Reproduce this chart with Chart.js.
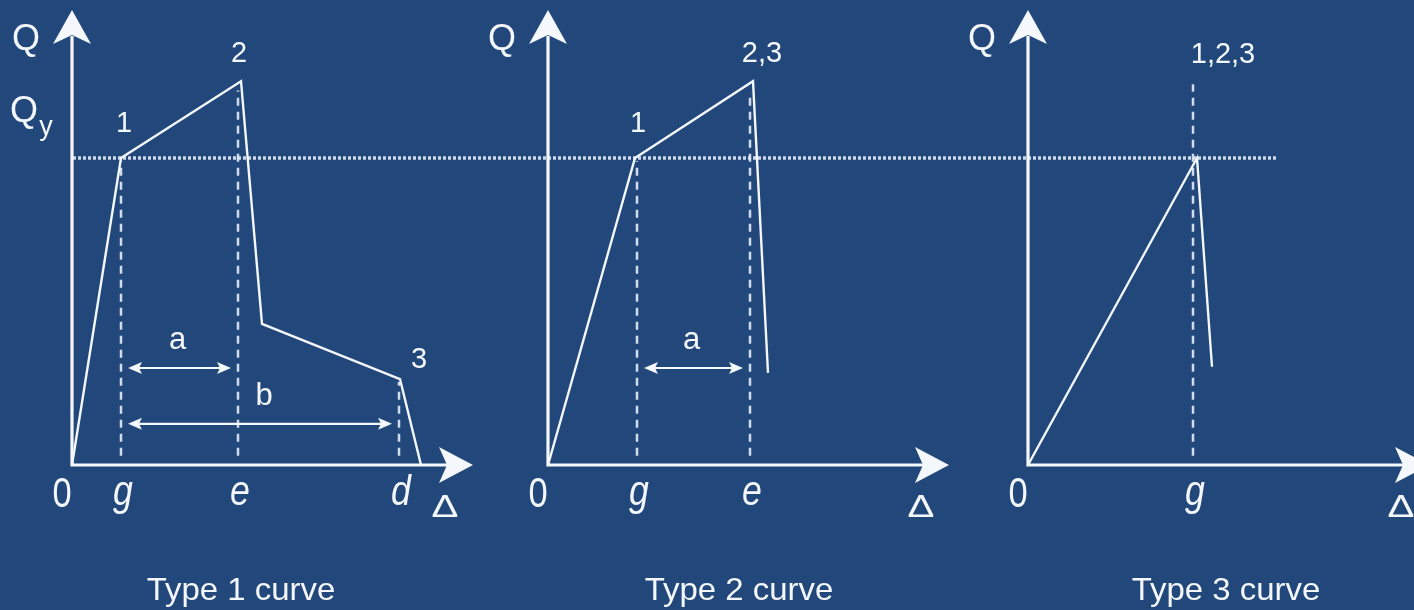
<!DOCTYPE html>
<html><head><meta charset="utf-8">
<script src="https://cdn.jsdelivr.net/npm/chart.js@4/dist/chart.umd.min.js"></script>
<style>html,body{margin:0;padding:0;background:#21477b;overflow:hidden}
#wrap{position:relative;width:1414px;height:610px}</style></head>
<body><div id="wrap"><canvas id="c"></canvas></div>
<script>
// ---------- data: Δ in diagram units, Q normalised so that Qy = 1 ----------
const panelTitles = ['Type 1 curve', 'Type 2 curve', 'Type 3 curve'];

const curve1Delta = [0, 0.98, 3.38, 3.80, 6.56, 6.98];
const curve1Q     = [0, 1.00, 1.25, 0.46, 0.28, 0.00];
const curve2Delta = [0, 1.74, 4.10, 4.40];
const curve2Q     = [0, 1.00, 1.25, 0.30];
const curve3Delta = [0, 3.38, 3.68];
const curve3Q     = [0, 1.00, 0.32];

const marker1Names = ['g', 'e', 'd'];
const marker1Delta = [0.98, 3.32, 6.54];
const marker1Top   = [0.99, 1.22, 0.27];
const marker2Names = ['g', 'e'];
const marker2Delta = [1.78, 4.04];
const marker2Top   = [0.99, 1.20];
const marker3Names = ['g'];
const marker3Delta = [3.30];
const marker3Top   = [1.24];

const pointLabels1 = ['1', '2', '3'];     const pointIdx1 = [1, 2, 4];
const pointLabels2 = ['1', '2,3'];        const pointIdx2 = [1, 2];
const pointLabels3 = ['1,2,3'];           const pointIdx3 = [1];

const dims1 = [['a', 'g', 'e', 0.316], ['b', 'g', 'd', 0.134]];
const dims2 = [['a', 'g', 'e', 0.316]];
const dims3 = [];

const qyValue = 1.0;
const qyLineEnd = 5.0;          // Δ in the third panel where the Qy line stops

// ---------- layout / style ----------
const panelOffset = [0, 9.52, 19.12];     // x-units between panel origins
const axisTopQ = 1.482, axisEndDelta = 8.02;
const WHITE = '#f4f7fb';
const FONT = '"Liberation Sans", Arial, Helvetica, sans-serif';
const labelStyle = {
  '1':     {dx: 3,  dy: -26},
  '2':     {dx: -2, dy: -19},
  '3':     {dx: 19, dy: -11},
  '2,3':   {dx: 9,  dy: -19},
  '1,2,3': {dx: 26, dy: -95}
};
const titleDx = [169, 191, 198];

const panels = [
  {d: curve1Delta, q: curve1Q, mn: marker1Names, md: marker1Delta, mt: marker1Top, pl: pointLabels1, pi: pointIdx1, dims: dims1, qy: true},
  {d: curve2Delta, q: curve2Q, mn: marker2Names, md: marker2Delta, mt: marker2Top, pl: pointLabels2, pi: pointIdx2, dims: dims2, qy: false},
  {d: curve3Delta, q: curve3Q, mn: marker3Names, md: marker3Delta, mt: marker3Top, pl: pointLabels3, pi: pointIdx3, dims: dims3, qy: false}
];

const datasets = [];
panels.forEach((p, i) => {
  datasets.push({
    label: panelTitles[i],
    data: p.d.map((d, k) => ({x: panelOffset[i] + d, y: p.q[k]})),
    showLine: true, borderColor: WHITE, borderWidth: 2.4, pointRadius: 0,
    borderJoinStyle: 'miter', order: 0
  });
  p.md.forEach((d, k) => {
    datasets.push({
      label: 'marker ' + p.mn[k],
      data: [{x: panelOffset[i] + d, y: 0.03}, {x: panelOffset[i] + d, y: p.mt[k]}],
      showLine: true, borderColor: 'rgba(225,234,246,0.92)', borderWidth: 2.5,
      borderDash: [8, 6], pointRadius: 0, order: 1
    });
  });
});
datasets.push({
  label: 'Qy',
  data: [{x: panelOffset[0] + 0.02, y: qyValue}, {x: panelOffset[2] + qyLineEnd, y: qyValue}],
  showLine: true, borderColor: 'rgba(225,234,246,0.9)', borderWidth: 3.5,
  borderDash: [3, 2], pointRadius: 0, order: 2
});

function arrowHead(ctx, tx, ty, ux, uy, len, hw, notch) {
  const nx = -uy, ny = ux;
  const bx = tx - ux * len, by = ty - uy * len;
  ctx.beginPath();
  ctx.moveTo(tx, ty);
  ctx.lineTo(bx + nx * hw, by + ny * hw);
  ctx.lineTo(tx - ux * (len - notch), ty - uy * (len - notch));
  ctx.lineTo(bx - nx * hw, by - ny * hw);
  ctx.closePath();
  ctx.fill();
}
function text(ctx, s, cx, base, font, sx, align) {
  ctx.save();
  ctx.font = font;
  ctx.textAlign = align || 'center';
  ctx.textBaseline = 'alphabetic';
  ctx.translate(cx, base);
  ctx.scale(sx || 1, 1);
  ctx.fillText(s, 0, 0);
  ctx.restore();
}

const overlay = {
  id: 'overlay',
  afterDatasetsDraw(chart) {
    const {ctx} = chart;
    const xs = chart.scales.x, ys = chart.scales.y;
    const px = (i, d) => xs.getPixelForValue(panelOffset[i] + d);
    const py = q => ys.getPixelForValue(q);
    ctx.save();
    ctx.fillStyle = WHITE;
    ctx.strokeStyle = WHITE;
    panels.forEach((p, i) => {
      const ox = px(i, 0), oy = py(0);
      const topY = py(axisTopQ), endX = px(i, axisEndDelta);
      // axes
      ctx.lineWidth = 3.2;
      ctx.beginPath();
      ctx.moveTo(ox, oy + 1.6); ctx.lineTo(ox, topY + 26);
      ctx.moveTo(ox - 1.6, oy); ctx.lineTo(endX - 26, oy);
      ctx.stroke();
      arrowHead(ctx, ox, topY, 0, -1, 34, 19, 9);
      arrowHead(ctx, endX, oy, 1, 0, 34, 18, 8);
      // axis labels
      text(ctx, 'Q', ox - 46, topY + 40, '36px ' + FONT);
      if (p.qy) {
        text(ctx, 'Q', ox - 48, py(qyValue) - 36, '36px ' + FONT);
        text(ctx, 'y', ox - 26, py(qyValue) - 23, '27px ' + FONT);
      }
      text(ctx, '0', ox - 10, oy + 42, '42px ' + FONT, 0.82);
      p.mn.forEach((n, k) => {
        text(ctx, n, px(i, p.md[k]) + 2, oy + 40, 'italic 42px ' + FONT, 0.85);
      });
      text(ctx, '\u0394', endX - 28, oy + 52, '31px ' + FONT, 1.3);
      // point labels
      p.pl.forEach((s, k) => {
        const st = labelStyle[s];
        const j = p.pi[k];
        text(ctx, s, px(i, p.d[j]) + st.dx, py(p.q[j]) + st.dy, '29px ' + FONT);
      });
      // dimension arrows
      p.dims.forEach(dm => {
        const a = px(i, p.md[p.mn.indexOf(dm[1])]) + 7;
        const b = px(i, p.md[p.mn.indexOf(dm[2])]) - 7;
        const yy = py(dm[3]);
        ctx.lineWidth = 2.2;
        ctx.beginPath(); ctx.moveTo(a + 8, yy); ctx.lineTo(b - 8, yy); ctx.stroke();
        arrowHead(ctx, a, yy, -1, 0, 14, 6, 3);
        arrowHead(ctx, b, yy, 1, 0, 14, 6, 3);
        text(ctx, dm[0], (a + b) / 2 + (dm[0] === 'b' ? 4 : -2), yy - 19, '31px ' + FONT);
      });
      // title
      text(ctx, panelTitles[i], ox + titleDx[i], 600, '32px ' + FONT, 1.03);
    });
    ctx.restore();
  }
};

new Chart(document.getElementById('c'), {
  type: 'scatter',
  data: {datasets},
  options: {
    responsive: true, maintainAspectRatio: false, animation: false,
    layout: {padding: 0},
    plugins: {legend: {display: false}, tooltip: {enabled: false}},
    elements: {line: {tension: 0}},
    scales: {
      x: {type: 'linear', display: false, min: -1.44, max: 26.84},
      y: {type: 'linear', display: false, min: -0.4723, max: 1.5147}
    }
  },
  plugins: [overlay]
});
</script></body></html>
